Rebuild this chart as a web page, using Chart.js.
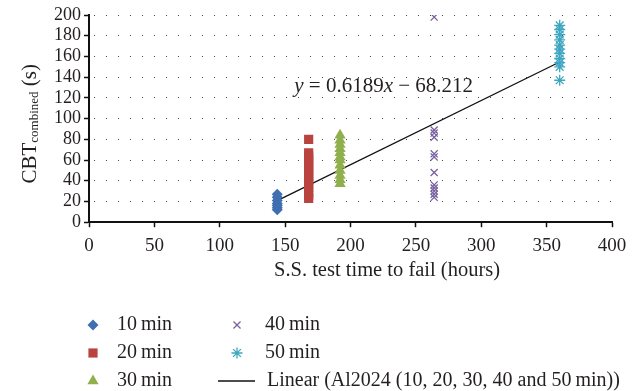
<!DOCTYPE html>
<html>
<head>
<meta charset="utf-8">
<script src="https://cdn.jsdelivr.net/npm/chart.js@4/dist/chart.umd.min.js"></script>
<style>
  html, body { margin: 0; padding: 0; background: #fff; }
  #wrap { width: 642px; height: 391px; }
</style>
</head>
<body>
<div id="wrap"><canvas id="myChart" width="642" height="391"></canvas></div>
<script>
// test time to fail (hours) for each exposure
const hours = [144, 168, 192, 264, 360];
const seriesNames = ["10\u2009min", "20\u2009min", "30\u2009min", "40\u2009min", "50\u2009min"];
// CBT combined (s)
const cbt10 = [12, 14, 16, 18, 21, 24, 27];
const cbt20 = [23, 26, 29, 34, 37, 40, 43, 46, 49, 52, 55, 58, 61, 64, 67, 80];
const cbt30 = [37, 41, 45, 50, 55, 60, 63, 67, 71, 75, 79, 84];
const cbt40 = [24, 27, 30, 33, 36, 48, 63, 66, 82, 86, 89, 198];
const cbt50 = [137, 150, 154, 158, 163, 167, 171, 176, 181, 186, 190];
// linear fit endpoints
const trendX = [144, 360];
const trendY = [20.9, 154.6];
const trendLabel = "Linear (Al2024 (10, 20, 30, 40 and 50\u2009min))";
const xTitle = "S.S. test time to fail (hours)";
const xTicks = [0, 50, 100, 150, 200, 250, 300, 350, 400];
const yTicks = [0, 20, 40, 60, 80, 100, 120, 140, 160, 180, 200];

const FONT = "'Liberation Serif', 'DejaVu Serif', serif";
const INK = "#231f20";

const colors = ["#3f6fb0", "#b9433f", "#8fb04c", "#7a62a0", "#3ea6c0"];
const styles = ["rectRot", "rect", "triangle", "crossRot", "star"];
const radii = [5.5, 6.5, 6.5, 5, 5.5];

const allCbt = [cbt10, cbt20, cbt30, cbt40, cbt50];

const datasets = allCbt.map((vals, i) => ({
  label: seriesNames[i],
  data: vals.map((v) => ({ x: hours[i], y: v })),
  pointStyle: styles[i],
  pointRadius: radii[i],
  backgroundColor: colors[i],
  borderColor: colors[i],
  borderWidth: i >= 3 ? 1.3 : 0,
  showLine: false,
}));

datasets.push({
  type: "line",
  label: trendLabel,
  data: trendX.map((x, i) => ({ x: x, y: trendY[i] })),
  borderColor: "#111",
  borderWidth: 1.3,
  pointRadius: 0,
  fill: false,
});

// axis titles, equation and legend
const extras = {
  id: "extras",
  afterDraw(chart) {
    const ctx = chart.ctx;
    const xs = chart.scales.x, ys = chart.scales.y;
    ctx.save();
    ctx.fillStyle = INK;

    // y title with subscript
    ctx.save();
    ctx.translate(30, ys.getPixelForValue(95));
    ctx.rotate(-Math.PI / 2);
    ctx.textBaseline = "middle";
    ctx.font = "21px " + FONT;
    const w1 = ctx.measureText("CBT").width;
    const w3 = ctx.measureText(" (s)").width;
    ctx.font = "13px " + FONT;
    const w2 = ctx.measureText("combined").width;
    let cx = -(w1 + w2 + w3) / 2;
    ctx.font = "21px " + FONT;
    ctx.fillText("CBT", cx, 0);
    cx += w1;
    ctx.font = "13px " + FONT;
    ctx.fillText("combined", cx, 5);
    cx += w2;
    ctx.font = "21px " + FONT;
    ctx.fillText(" (s)", cx, 0);
    ctx.restore();

    // x title
    ctx.textAlign = "center";
    ctx.textBaseline = "middle";
    ctx.font = "20.5px " + FONT;
    ctx.fillText(xTitle, 387, 271);
    ctx.textAlign = "left";

    // equation
    let ex = xs.getPixelForValue(157);
    const ey = ys.getPixelForValue(131);
    const parts = [["y", true], [" = 0.6189", false], ["x", true], [" \u2212 68.212", false]];
    parts.forEach(([t, it]) => {
      ctx.font = (it ? "italic " : "") + "21px " + FONT;
      ctx.fillText(t, ex, ey);
      ex += ctx.measureText(t).width;
    });

    // legend, two columns
    const items = [
      [0, 93, 325, 117], [1, 93, 353, 117], [2, 93, 381, 117],
      [3, 237, 325, 265], [4, 237, 353, 265], [5, 237, 381, 267],
    ];
    ctx.font = "20px " + FONT;
    items.forEach(([i, mx, my, tx]) => {
      const ds = chart.data.datasets[i];
      if (i < 5) {
        ctx.fillStyle = ds.backgroundColor;
        ctx.strokeStyle = ds.borderColor;
        ctx.lineWidth = 1.3;
        Chart.helpers.drawPoint(ctx, {
          pointStyle: ds.pointStyle,
          radius: ds.pointRadius,
          borderWidth: ds.borderWidth,
          rotation: 0,
        }, mx, my);
      } else {
        ctx.strokeStyle = "#111";
        ctx.lineWidth = 1.5;
        ctx.beginPath();
        ctx.moveTo(218, my);
        ctx.lineTo(255, my);
        ctx.stroke();
      }
      ctx.fillStyle = INK;
      ctx.fillText(ds.label, tx, my);
    });
    ctx.restore();
  },
};

const ctx = document.getElementById("myChart");
new Chart(ctx, {
  type: "scatter",
  data: { datasets: datasets },
  options: {
    responsive: false,
    animation: false,
    layout: { padding: { left: 0, right: 30, top: 15, bottom: 127 } },
    plugins: { legend: { display: false }, tooltip: { enabled: false } },
    scales: {
      x: {
        type: "linear",
        min: 0,
        max: 400,
        afterBuildTicks: (s) => { s.ticks = xTicks.map((v) => ({ value: v })); },
        grid: { drawOnChartArea: false, drawTicks: true, tickLength: 5, tickColor: "#111", tickWidth: 1.5 },
        border: { color: "#111", width: 2 },
        ticks: { color: INK, font: { family: FONT, size: 19 }, padding: 7, maxRotation: 0, autoSkip: false },
      },
      y: {
        min: 0,
        max: 200,
        afterBuildTicks: (s) => { s.ticks = yTicks.map((v) => ({ value: v })); },
        afterFit: (s) => { s.width = 89; },
        grid: {
          color: (c) => (c.tick.value === 0 ? "rgba(0,0,0,0)" : "#444"),
          lineWidth: 1,
          tickLength: 5,
          tickColor: "#111",
          tickWidth: 1.5,
          tickBorderDash: [],
        },
        border: { color: "#111", width: 2, dash: [1, 11], dashOffset: -4 },
        ticks: { color: INK, font: { family: FONT, size: 18 }, padding: 3, autoSkip: false },
      },
    },
  },
  plugins: [extras],
});
</script>
</body>
</html>
